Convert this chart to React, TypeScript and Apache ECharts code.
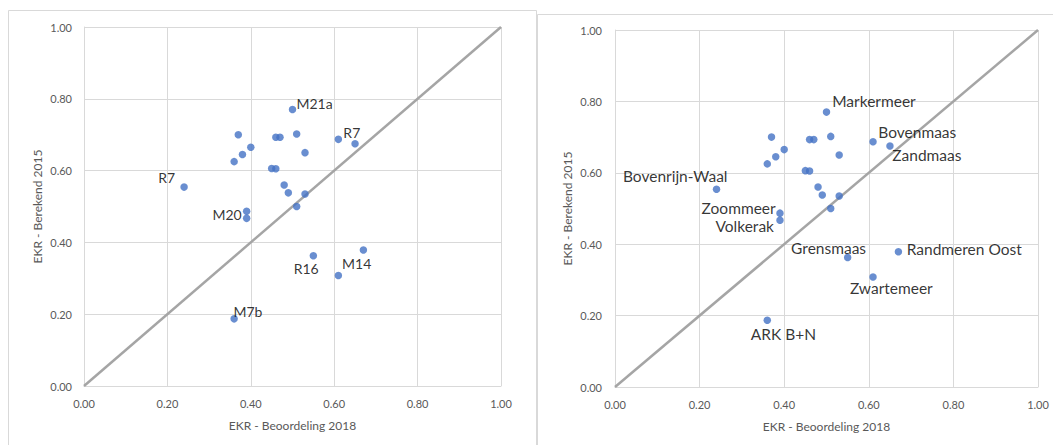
import React, { useEffect, useRef } from "react";
import * as echarts from "echarts";

// EKR - Beoordeling 2018 (x) and EKR - Berekend 2015 (y), same waters in both panels
const xBeoordeling2018 = [0.50, 0.37, 0.40, 0.38, 0.36, 0.46, 0.47, 0.51, 0.53, 0.45, 0.46, 0.48, 0.49, 0.53, 0.51, 0.61, 0.65, 0.24, 0.39, 0.39, 0.55, 0.67, 0.61, 0.36];
const yBerekend2015 = [0.77, 0.70, 0.665, 0.645, 0.625, 0.693, 0.693, 0.702, 0.65, 0.606, 0.605, 0.56, 0.538, 0.535, 0.50, 0.687, 0.675, 0.554, 0.487, 0.467, 0.363, 0.379, 0.308, 0.187];

// labels: left panel water types, right panel water names
const typeLabels = ["M21a", "", "", "", "", "", "", "", "", "", "", "", "", "", "", "R7", "", "R7", "M20", "", "R16", "", "M14", "M7b"];
const nameLabels = ["Markermeer", "", "", "", "", "", "", "", "", "", "", "", "", "", "", "Bovenmaas", "Zandmaas", "Bovenrijn-Waal", "Zoommeer", "Volkerak", "Grensmaas", "Randmeren Oost", "Zwartemeer", "ARK B+N"];

const diagonal = [[0, 0], [1, 1]];

// label placement (pixel offset from point centre, alignment)
const typePlacement: Record<number, [number, number, string]> = {
  0: [4, -6, "left"],
  15: [5, -7, "left"],
  17: [-9, -10, "right"],
  18: [-5, 3, "right"],
  20: [5.3, 12.7, "right"],
  22: [3.7, -12, "left"],
  23: [-0.7, -7.6, "left"],
};
const namePlacement: Record<number, [number, number, string]> = {
  0: [5.7, -11.3, "left"],
  15: [5.3, -9.3, "left"],
  16: [2.3, 9, "left"],
  17: [11, -13.3, "right"],
  18: [-4.3, -5, "right"],
  19: [-6, 6, "right"],
  20: [18.4, -9.7, "right"],
  21: [8.3, -3, "left"],
  22: [18.3, 11.4, "center"],
  23: [16.2, 13.6, "center"],
};

const FONT = "Lato";

function buildPoints(labels: string[], placement: Record<number, [number, number, string]>, fontSize: number) {
  return xBeoordeling2018.map((x, i) => {
    const item: any = { value: [x, yBerekend2015[i]], name: labels[i] };
    const p = placement[i];
    if (labels[i] && p) {
      item.label = {
        show: true,
        formatter: labels[i],
        position: "inside",
        offset: [p[0], p[1]],
        align: p[2],
        verticalAlign: "middle",
        color: "#000000",
        fontFamily: FONT,
        fontSize,
        lineHeight: 13,
      };
    }
    return item;
  });
}

function axisCommon(name: string, idx: number, nameGap: number, labelMargin: number) {
  return {
    type: "value",
    gridIndex: idx,
    min: 0,
    max: 1,
    interval: 0.2,
    name,
    nameLocation: "middle",
    nameGap,
    nameTextStyle: { color: "#595959", fontFamily: FONT, fontSize: 12 },
    axisLine: { show: true, lineStyle: { color: "#D9D9D9", width: 1 } },
    axisTick: { show: false },
    axisLabel: {
      color: "#595959",
      fontFamily: FONT,
      fontSize: 11,
      margin: labelMargin,
      formatter: (v: number) => v.toFixed(2),
      showMinLabel: true,
      showMaxLabel: true,
    },
    splitLine: { show: true, lineStyle: { color: "#D9D9D9", width: 1 } },
  };
}

export default function App() {
  const ref = useRef<HTMLDivElement>(null);
  useEffect(() => {
    if (!ref.current) return;
    const chart = echarts.init(ref.current, undefined, { renderer: "svg" });
    const option: any = {
      animation: false,
      backgroundColor: "#ffffff",
      graphic: [
        { type: "rect", shape: { x: 8.5, y: 10.5, width: 528, height: 460 }, style: { fill: "#ffffff", stroke: "#D9D9D9", lineWidth: 1 }, z: -10, silent: true },
        { type: "rect", shape: { x: 537.5, y: 14.5, width: 530, height: 460 }, style: { fill: "#ffffff", stroke: "#D9D9D9", lineWidth: 1 }, z: -10, silent: true },
      ],
      grid: [
        { left: 84, top: 27, width: 417, height: 359 },
        { left: 615, top: 30, width: 423, height: 357 },
      ],
      xAxis: [
        axisCommon("EKR - Beoordeling 2018", 0, 33, 12),
        axisCommon("EKR - Beoordeling 2018", 1, 33, 12),
      ],
      yAxis: [
        axisCommon("EKR - Berekend 2015", 0, 41, 12),
        axisCommon("EKR - Berekend 2015", 1, 42, 13),
      ],
      series: [
        { type: "line", xAxisIndex: 0, yAxisIndex: 0, data: diagonal, symbol: "none", lineStyle: { color: "#A5A5A5", width: 2.5 }, z: 1, silent: true },
        { type: "line", xAxisIndex: 1, yAxisIndex: 1, data: diagonal, symbol: "none", lineStyle: { color: "#A5A5A5", width: 2.5 }, z: 1, silent: true },
        { type: "scatter", xAxisIndex: 0, yAxisIndex: 0, data: buildPoints(typeLabels, typePlacement, 14), symbolSize: 7.5, itemStyle: { color: "#4472C4" }, z: 2 },
        { type: "scatter", xAxisIndex: 1, yAxisIndex: 1, data: buildPoints(nameLabels, namePlacement, 15.5), symbolSize: 7.5, itemStyle: { color: "#4472C4" }, z: 2 },
      ],
    };
    chart.setOption(option);
    return () => chart.dispose();
  }, []);
  return <div ref={ref} style={{ position: "fixed", left: 0, top: 0, width: 1053, height: 445 }} />;
}
